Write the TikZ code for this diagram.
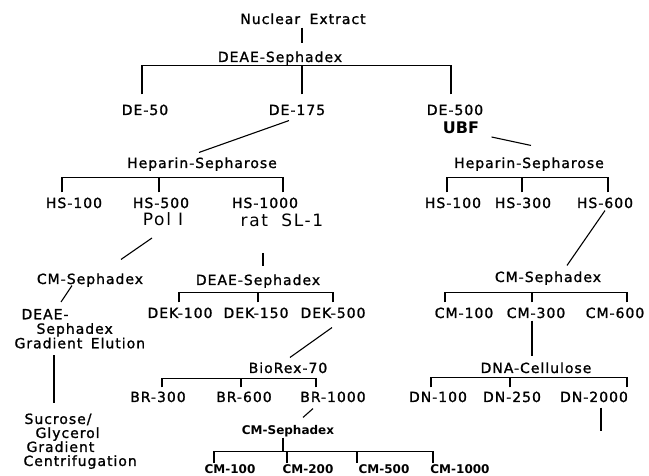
\documentclass[tikz,border=0pt]{standalone}
\usepackage{fontspec}
\newfontfamily\plotfont[LetterSpace=7, FakeBold=1.2]{DejaVu Sans}
\newfontfamily\tagfont[LetterSpace=10]{DejaVu Sans}
\newfontfamily\plainfont{DejaVu Sans}
\usetikzlibrary{calc}

\begin{document}
\begin{tikzpicture}[x=1pt, y=-1pt, line width=1.1pt,
        lab/.style={anchor=base, inner sep=0pt, font=\plotfont\fontsize{14}{15}\selectfont, text height=9.5pt, text depth=3pt},
        bigtag/.style={anchor=base, inner sep=0pt, font=\tagfont\fontsize{17}{20}\selectfont},
        boldtag/.style={anchor=base, inner sep=0pt, font=\plainfont\bfseries\fontsize{16}{18}\selectfont},
        cmlab/.style={lab, font=\plainfont\bfseries\fontsize{12}{14}\selectfont, text height=9pt, text depth=2.5pt},
        steps/.style={anchor=north west, inner sep=0pt, align=left, font=\plotfont\fontsize{14}{14.5}\selectfont}]
        \useasboundingbox (0,0) rectangle (649,476);

        % Extract and first column
        \node[lab] (nuc) at (303,24) {Nuclear\hspace{4pt} Extract};
        \node[lab] (deaeA) at (280,62) {DEAE-Sephadex};
        \draw ($(nuc.south)+(-1,0)$) -- ($(deaeA.north)+(22,-8.5)$);

        \node[lab] (de50) at (145,115) {DE-50};
        \node[lab] (de175) at (297,115) {DE-175};
        \node[lab] (de500) at (455,115) {DE-500};
        \node[boldtag] (ubf) at (461,134) {UBF};
        \draw ($(de50.north)+(-3,-10.5)$) |- (deaeA.south);
        \draw ($(de175.north)+(5,-10.5)$) |- (deaeA.south);
        \draw ($(de500.north)+(-4,-10.5)$) |- (deaeA.south);

        % Heparin columns
        \node[lab] (hepL) at (202,168) {Heparin-Sepharose};
        \node[lab] (hepR) at (529,168) {Heparin-Sepharose};
        \draw ($(de175.south)+(-8,2)$) -- ($(hepL.north)+(-3,-5.5)$);
        \draw ($(ubf.base east)+(12,3)$) -- ($(hepR.north)+(2,-12.5)$);

        \node[lab] (hsL1) at (74,208) {HS-100};
        \node[lab] (hsL2) at (161,208) {HS-500};
        \node[lab] (hsL3) at (265,208) {HS-1000};
        \draw ($(hsL1.north)+(-12,-5.5)$) |- ($(hepL.south)+(0,6)$);
        \draw ($(hsL2.north)+(-2,-5.5)$) |- ($(hepL.south)+(0,6)$);
        \draw ($(hsL3.north)+(18,-5.5)$) |- ($(hepL.south)+(0,6)$);

        \node[lab] (hsR1) at (453,208) {HS-100};
        \node[lab] (hsR2) at (523,208) {HS-300};
        \node[lab] (hsR3) at (605,208) {HS-600};
        \draw ($(hsR1.north)+(-6,-5.5)$) |- ($(hepR.south)+(0,6)$);
        \draw ($(hsR2.north)+(-1,-5.5)$) |- ($(hepR.south)+(0,6)$);
        \draw ($(hsR3.north)+(3,-5.5)$) |- ($(hepR.south)+(0,6)$);

        % Factors
        \node[bigtag] (pol) at (163,226) {Pol I};
        \node[bigtag] (sl1) at (282,227) {rat\hspace{6pt} SL-1};

        % Pol I branch
        \node[lab] (cmL) at (90,284) {CM-Sephadex};
        \draw ($(pol.base)+(-11,12)$) -- ($(cmL.north)+(31,-14.5)$);
        \node[steps] (deaeG) at (14,308.5) {\hspace*{7pt}DEAE-\\\hspace*{22pt}Sephadex\\Gradient\hspace{3pt} Elution};
        \draw ($(cmL.south)+(-18,-2)$) -- ($(deaeG.north west)+(47,-6.5)$);
        \node[steps, font=\plotfont\fontsize{14}{14}\selectfont] (sucr) at (23,413) {\hspace*{1pt}Sucrose/\\\hspace*{12pt}Glycerol\\\hspace*{3pt}Gradient\\Centrifugation};
        \draw ($(deaeG.north west)+(40,46.5)$) -- ($(sucr.north west)+(31,-10)$);

        % SL-1 branch
        \node[lab] (deaeB) at (258,285) {DEAE-Sephadex};
        \draw ($(sl1.base)+(-19,26)$) -- ($(deaeB.north)+(5,-8.5)$);
        \node[lab] (dek1) at (180,318) {DEK-100};
        \node[lab] (dek2) at (256,318) {DEK-150};
        \node[lab] (dek3) at (333,318) {DEK-500};
        \draw ($(dek1.north)+(-1,-5.5)$) |- ($(deaeB.south)+(0,4)$);
        \draw ($(dek2.north)+(2,-5.5)$) |- ($(deaeB.south)+(0,4)$);
        \draw ($(dek3.north)+(0,-5.5)$) |- ($(deaeB.south)+(0,4)$);

        \node[lab] (biorex) at (288,373) {BioRex-70};
        \draw ($(dek3.south)+(-1,6)$) -- ($(biorex.north)+(2,-5.5)$);
        \node[lab] (br1) at (158,402) {BR-300};
        \node[lab] (br2) at (244,402) {BR-600};
        \node[lab] (br3) at (333,402) {BR-1000};
        \draw ($(br1.north)+(4,-4.5)$) |- ($(biorex.south)+(0,2)$);
        \draw ($(br2.north)+(-3,-4.5)$) |- ($(biorex.south)+(0,2)$);
        \draw ($(br3.north)+(-17,-4.5)$) |- ($(biorex.south)+(0,2)$);

        \node[cmlab] (cmB) at (288,434) {CM-Sephadex};
        \draw ($(br3.south)+(-20,3)$) -- ($(cmB.north)+(15,-7)$);
        \draw ($(cmB.south)+(-5,0.5)$) -- ($(cmB.south)+(-5,14)$);
        \node[cmlab] (cmB1) at (230,473.5) {CM-100};
        \node[cmlab] (cmB2) at (308,473.5) {CM-200};
        \node[cmlab] (cmB3) at (384,473.5) {CM-500};
        \node[cmlab] (cmB4) at (460,473.5) {CM-1000};
        \draw ($(cmB1.north)+(-16,-1)$) |- ($(cmB.south)+(-5,14)$);
        \draw ($(cmB2.north)+(-21,-1)$) |- ($(cmB.south)+(-5,14)$);
        \draw ($(cmB3.north)+(-27,-1)$) |- ($(cmB.south)+(-5,14)$);
        \draw ($(cmB4.north)+(-27,-1)$) |- ($(cmB.south)+(-5,14)$);

        % UBF branch
        \node[lab] (cmR) at (548,282) {CM-Sephadex};
        \draw ($(hsR3.south)+(0,-1)$) -- ($(cmR.north)+(19,-6.5)$);
        \node[lab] (cmR1) at (464,318) {CM-100};
        \node[lab] (cmR2) at (536,318) {CM-300};
        \node[lab] (cmR3) at (615,318) {CM-600};
        \draw ($(cmR1.north)+(-19,-5.5)$) |- ($(cmR.south)+(0,7)$);
        \draw ($(cmR2.north)+(-4,-5.5)$) |- ($(cmR.south)+(0,7)$);
        \draw ($(cmR3.north)+(12,-5.5)$) |- ($(cmR.south)+(0,7)$);

        \node[lab] (dna) at (536,373) {DNA-Cellulose};
        \draw ($(cmR2.south)+(-4,-1)$) -- ($(dna.north)+(-4,-6.5)$);
        \node[lab] (dn1) at (438,402) {DN-100};
        \node[lab] (dn2) at (512,402) {DN-250};
        \node[lab] (dn3) at (594,402) {DN-2000};
        \draw ($(dn1.north)+(-7,-4.5)$) |- ($(dna.south)+(0,1)$);
        \draw ($(dn2.north)+(-2,-4.5)$) |- ($(dna.south)+(0,1)$);
        \draw ($(dn3.north)+(33,-4.5)$) |- ($(dna.south)+(0,1)$);

        % Open end below DN-2000
        \coordinate (dnEnd) at (601,431);
        \draw ($(dn3.south)+(7,2)$) -- (dnEnd);
    \end{tikzpicture}
\end{document}
